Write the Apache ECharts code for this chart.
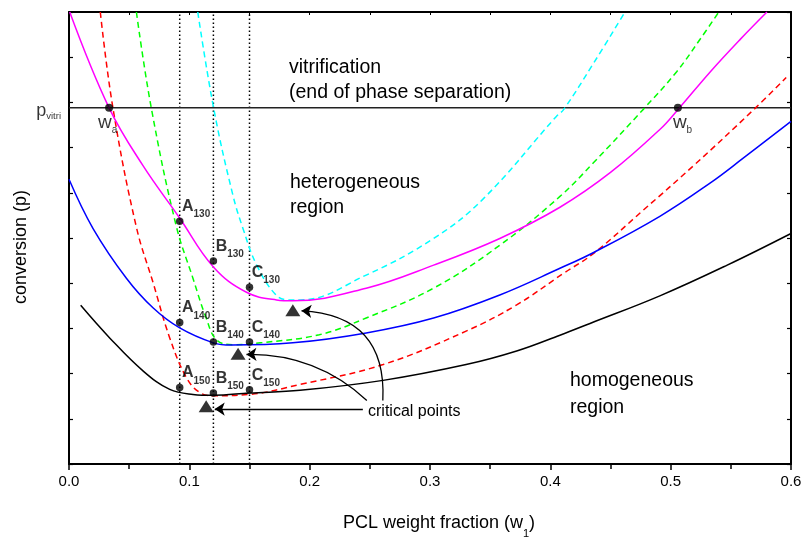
<!DOCTYPE html>
<html>
<head>
<meta charset="utf-8">
<script src="https://cdn.jsdelivr.net/npm/echarts@6/dist/echarts.min.js"></script>
<style>
  html, body { margin: 0; padding: 0; background: #fff; }
  #chart { width: 806px; height: 544px; }
</style>
</head>
<body>
<div id="chart"></div>
<script>
// values, as [w1, p]
const xTickLabels = ['0.0', '0.1', '0.2', '0.3', '0.4', '0.5', '0.6']
const pVitri = 0.788
const dottedW = [0.092, 0.12, 0.15]

const solid150 = [[0.0097, 0.351], [0.0338, 0.279], [0.0615, 0.206], [0.0837, 0.165], [0.103, 0.154], [0.12, 0.152], [0.150, 0.157], [0.192, 0.163], [0.261, 0.185], [0.330, 0.220], [0.372, 0.250], [0.408, 0.285], [0.433, 0.311], [0.491, 0.372], [0.547, 0.440], [0.6, 0.510]]
const solid140 = [[0, 0.630], [0.020, 0.521], [0.0477, 0.411], [0.070, 0.345], [0.092, 0.301], [0.12, 0.268], [0.135, 0.263], [0.186, 0.268], [0.247, 0.290], [0.303, 0.323], [0.358, 0.374], [0.408, 0.433], [0.436, 0.468], [0.491, 0.548], [0.533, 0.622], [0.560, 0.676], [0.6, 0.758]]
const solid130 = [[0.0006, 1.0], [0.0333, 0.788], [0.0615, 0.660], [0.0915, 0.546], [0.12, 0.436], [0.1475, 0.380], [0.1724, 0.363], [0.186, 0.361], [0.247, 0.389], [0.303, 0.440], [0.358, 0.499], [0.408, 0.568], [0.450, 0.645], [0.491, 0.740], [0.506, 0.784], [0.533, 0.868], [0.558, 0.940], [0.580, 1.0]]
const dashRed = [[0.026, 1.0], [0.0366, 0.786], [0.056, 0.524], [0.070, 0.400], [0.0837, 0.279], [0.0976, 0.191], [0.1087, 0.158], [0.12, 0.151], [0.150, 0.154], [0.192, 0.176], [0.261, 0.220], [0.330, 0.294], [0.372, 0.352], [0.411, 0.422], [0.436, 0.466], [0.477, 0.561], [0.519, 0.660], [0.569, 0.784], [0.596, 0.855]]
const dashGreen = [[0.056, 1.0], [0.0685, 0.786], [0.089, 0.528], [0.103, 0.411], [0.114, 0.323], [0.1225, 0.275], [0.136, 0.264], [0.159, 0.268], [0.208, 0.286], [0.247, 0.323], [0.303, 0.389], [0.358, 0.484], [0.408, 0.592], [0.436, 0.667], [0.477, 0.784], [0.505, 0.868], [0.524, 0.938], [0.540, 1.0]]
const dashCyan = [[0.107, 1.0], [0.1203, 0.786], [0.136, 0.597], [0.1447, 0.520], [0.156, 0.440], [0.172, 0.374], [0.183, 0.363], [0.192, 0.363], [0.247, 0.418], [0.303, 0.499], [0.344, 0.586], [0.405, 0.769], [0.411, 0.784], [0.436, 0.887], [0.462, 1.0]]

const vitriNames = ['a', 'b']
const vitriW = [0.0333, 0.506]

// cure states A, B, C at 130, 140, 150
const temps = ['130', '140', '150']
const pointsA = [[0.092, 0.537], [0.092, 0.313], [0.092, 0.169]]
const pointsB = [[0.12, 0.449], [0.12, 0.270], [0.12, 0.157]]
const pointsC = [[0.15, 0.391], [0.15, 0.270], [0.15, 0.164]]

const criticalPoints = [[0.186, 0.340], [0.1405, 0.244], [0.114, 0.128]]
const arrowTips = [[0.1932, 0.3389], [0.1475, 0.2423], [0.1211, 0.1215]]
const arrowTails = [[0.2608, 0.1406], [0.2475, 0.1406], [0.2442, 0.1215]]

const font = "'Liberation Sans', Arial, sans-serif"
const chart = echarts.init(document.getElementById('chart'), null, { renderer: 'canvas' })

function curve(data, color, dashed) {
  return {
    type: 'line',
    data: data,
    showSymbol: false,
    smooth: 0.4,
    lineStyle: { color: color, width: 1.5, type: dashed ? [6, 4] : 'solid' },
    z: 3
  }
}

const subLabel = {
  a: { fontSize: 16, fontWeight: 'bold', color: '#000', fontFamily: font, lineHeight: 18, verticalAlign: 'top' },
  s: { fontSize: 10, fontWeight: 'bold', color: '#000', fontFamily: font, lineHeight: 12, padding: [11, 0, 0, 0], verticalAlign: 'top' }
}

const stateData = []
;[['A', pointsA], ['B', pointsB], ['C', pointsC]].forEach(([letter, pts]) => {
  pts.forEach((pt, i) => stateData.push({ value: pt, name: letter + '|' + temps[i] }))
})

const vitriOffsets = [[-7, 9.5], [-1, 9.5]]
const vitriData = vitriW.map((w, i) => ({
  value: [w, pVitri],
  name: vitriNames[i],
  label: { position: vitriOffsets[i] }
}))

const bends = [0.5, 0.2, 0]

const dotted = dottedW.map(w => ({
  type: 'line',
  data: [[w, 0], [w, 1]],
  showSymbol: false,
  lineStyle: { color: '#000', width: 1.5, type: [1.5, 2.5] },
  z: 2
}))

chart.setOption({
  animation: false,
  backgroundColor: '#fff',
  textStyle: { fontFamily: font, color: '#000' },
  grid: { left: 69, top: 12, width: 722, height: 455 },
  xAxis: [{
    type: 'value',
    min: 0,
    max: 0.6,
    interval: 0.1,
    position: 'bottom',
    axisLine: { show: true, onZero: false, lineStyle: { color: '#000', width: 2 } },
    axisTick: { show: true, inside: false, length: 6, lineStyle: { color: '#000', width: 1.5 } },
    minorTick: { show: true, splitNumber: 2, length: 5, lineStyle: { color: '#000', width: 1.5 } },
    axisLabel: {
      fontSize: 15,
      color: '#000',
      margin: 10,
      fontFamily: font,
      formatter: v => xTickLabels[Math.round(v * 10)]
    },
    splitLine: { show: false },
    name: '{n|PCL weight fraction (w}{s|1}{n|)}',
    nameLocation: 'middle',
    nameGap: 50,
    nameTextStyle: {
      padding: [0, 0, 0, 18],
      rich: {
        n: { fontSize: 18, color: '#000', fontFamily: font, lineHeight: 20, verticalAlign: 'top' },
        s: { fontSize: 11, color: '#000', fontFamily: font, lineHeight: 12, padding: [14, 0, 0, 0], verticalAlign: 'top' }
      }
    }
  }, {
    type: 'value',
    min: 0,
    max: 0.6,
    interval: 0.05,
    position: 'top',
    axisLine: { show: true, onZero: false, lineStyle: { color: '#000', width: 2 } },
    axisTick: { show: true, inside: true, length: 3, lineStyle: { color: '#000', width: 1 } },
    axisLabel: { show: false },
    splitLine: { show: false }
  }],
  yAxis: [{
    type: 'value',
    min: 0,
    max: 1,
    interval: 0.1,
    position: 'left',
    axisLine: { show: true, onZero: false, lineStyle: { color: '#000', width: 2 } },
    axisTick: { show: true, inside: true, length: 4, lineStyle: { color: '#000', width: 1.2 } },
    axisLabel: { show: false },
    splitLine: { show: false },
    name: 'conversion (p)',
    nameLocation: 'middle',
    nameGap: 39,
    nameTextStyle: { fontSize: 18, color: '#000', fontFamily: font, padding: [0, 18, 0, 0] }
  }, {
    type: 'value',
    min: 0,
    max: 1,
    interval: 0.1,
    position: 'right',
    axisLine: { show: true, onZero: false, lineStyle: { color: '#000', width: 2 } },
    axisTick: { show: true, inside: true, length: 4, lineStyle: { color: '#000', width: 1.2 } },
    axisLabel: { show: false },
    splitLine: { show: false }
  }],
  series: [
    ...dotted,
    {
      type: 'line',
      data: [[0, pVitri], [0.6, pVitri]],
      showSymbol: false,
      lineStyle: { color: '#222', width: 1.5 },
      z: 2
    },
    curve(dashCyan, '#00ffff', true),
    curve(dashGreen, '#00ff00', true),
    curve(dashRed, '#ff0000', true),
    curve(solid130, '#ff00ff', false),
    curve(solid140, '#0000ff', false),
    curve(solid150, '#000000', false),
    {
      // p_vitri text on the left of the frame
      type: 'scatter',
      data: [[0, pVitri]],
      symbolSize: 0,
      clip: false,
      label: {
        show: true,
        position: 'left',
        distance: 8,
        color: '#000',
        formatter: '{p|p}{s|vitri}',
        rich: {
          p: { fontSize: 18, color: '#000', fontFamily: font, lineHeight: 20, padding: [4, 0, 0, 0], verticalAlign: 'top' },
          s: { fontSize: 9.5, color: '#000', fontFamily: font, lineHeight: 11, padding: [14, 0, 0, 0], verticalAlign: 'top' }
        }
      },
      z: 5
    },
    {
      type: 'scatter',
      data: vitriData,
      symbol: 'circle',
      symbolSize: 8,
      itemStyle: { color: '#000' },
      label: {
        show: true,
        color: '#000',
        formatter: p => '{w|w}{s|' + p.name + '}',
        rich: {
          w: { fontSize: 19, color: '#000', fontFamily: font, lineHeight: 20, verticalAlign: 'top' },
          s: { fontSize: 10, color: '#000', fontFamily: font, lineHeight: 11, padding: [12, 0, 0, 0], verticalAlign: 'top' }
        }
      },
      z: 6
    },
    {
      type: 'scatter',
      data: stateData,
      symbol: 'circle',
      symbolSize: 7.5,
      itemStyle: { color: '#000' },
      label: {
        show: true,
        position: [6, -19],
        color: '#000',
        formatter: p => {
          const parts = p.name.split('|')
          return '{a|' + parts[0] + '}{s|' + parts[1] + '}'
        },
        rich: subLabel
      },
      z: 6
    },
    {
      type: 'scatter',
      data: criticalPoints,
      symbol: 'triangle',
      symbolSize: [15, 12],
      itemStyle: { color: '#000' },
      z: 6
    },
    {
      type: 'lines',
      coordinateSystem: 'cartesian2d',
      symbol: ['arrow', 'none'],
      symbolSize: 10,
      lineStyle: { color: '#000', width: 1.3, opacity: 1 },
      data: arrowTips.map((tip, i) => ({
        coords: [tip, arrowTails[i]],
        lineStyle: { curveness: bends[i] }
      })),
      z: 5
    }
  ],
  graphic: [
    { type: 'text', x: 289, y: 68, style: { text: 'vitrification', font: '19.5px ' + font, fill: '#000', verticalAlign: 'middle' } },
    { type: 'text', x: 289, y: 93, style: { text: '(end of phase separation)', font: '19.5px ' + font, fill: '#000', verticalAlign: 'middle' } },
    { type: 'text', x: 290, y: 183, style: { text: 'heterogeneous', font: '19.5px ' + font, fill: '#000', verticalAlign: 'middle' } },
    { type: 'text', x: 290, y: 208, style: { text: 'region', font: '19.5px ' + font, fill: '#000', verticalAlign: 'middle' } },
    { type: 'text', x: 570, y: 381, style: { text: 'homogeneous', font: '19.5px ' + font, fill: '#000', verticalAlign: 'middle' } },
    { type: 'text', x: 570, y: 408, style: { text: 'region', font: '19.5px ' + font, fill: '#000', verticalAlign: 'middle' } },
    { type: 'text', x: 368, y: 412, style: { text: 'critical points', font: '16px ' + font, fill: '#000', verticalAlign: 'middle' } }
  ]
})
</script>
</body>
</html>
